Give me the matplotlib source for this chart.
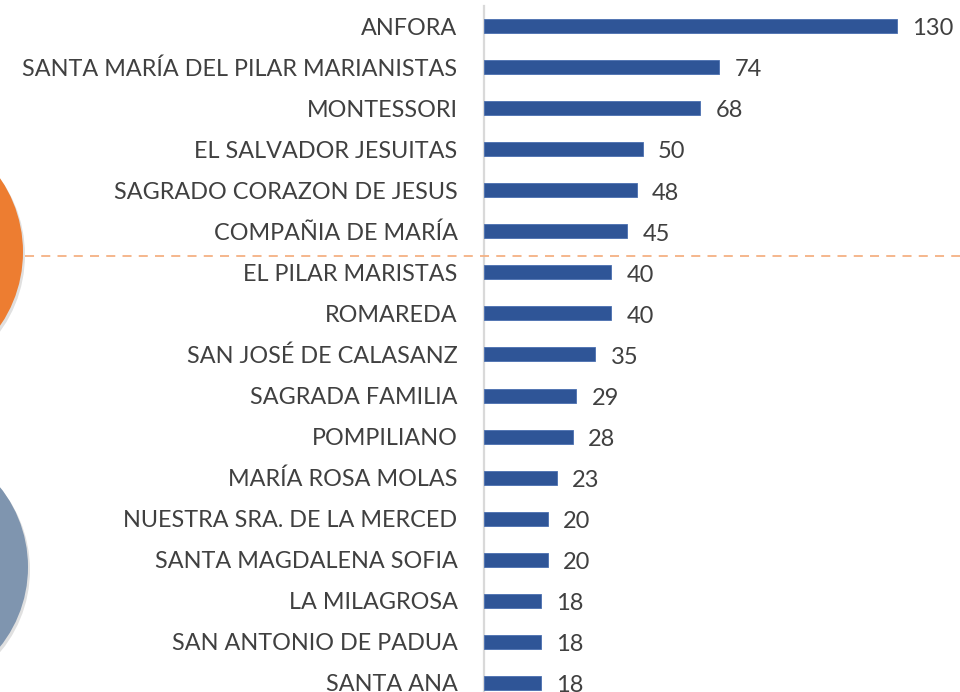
import matplotlib
matplotlib.use("Agg")
import matplotlib.pyplot as plt
from matplotlib.patches import Circle
from matplotlib.lines import Line2D

categories = ["ANFORA", "SANTA MARÍA DEL PILAR MARIANISTAS", "MONTESSORI",
              "EL SALVADOR JESUITAS", "SAGRADO CORAZON DE JESUS", "COMPAÑIA DE MARÍA",
              "EL PILAR MARISTAS", "ROMAREDA", "SAN JOSÉ DE CALASANZ", "SAGRADA FAMILIA",
              "POMPILIANO", "MARÍA ROSA MOLAS", "NUESTRA SRA. DE LA MERCED",
              "SANTA MAGDALENA SOFIA", "LA MILAGROSA", "SAN ANTONIO DE PADUA", "SANTA ANA"]
values = [130, 74, 68, 50, 48, 45, 40, 40, 35, 29, 28, 23, 20, 20, 18, 18, 18]

plt.rcParams['font.family'] = ['Lato', 'DejaVu Sans']

W, H, DPI = 960, 692, 100
fig = plt.figure(figsize=(W / DPI, H / DPI), dpi=DPI)

# decorative circles (figure, inches)
for (cx, cy, r, col) in [(-107, 252, 130, "#ED7D31"), (-100, 567, 128, "#7F95AF")]:
    sh = Circle(((cx + 2) / DPI, (H - cy - 3) / DPI), r / DPI, transform=fig.dpi_scale_trans,
                facecolor="#000000", alpha=0.12, edgecolor="none", zorder=0)
    fig.patches.append(sh)
    c = Circle((cx / DPI, (H - cy) / DPI), r / DPI, transform=fig.dpi_scale_trans,
               facecolor=col, edgecolor="none", zorder=1)
    fig.patches.append(c)

ax_left = 484 / W
ax = fig.add_axes([ax_left, 0, 1 - ax_left, (H - 6) / H])
ax.set_facecolor("none")

pitch = 41.06
ypos = list(range(len(categories)))
ax.barh(ypos, values, height=14 / pitch, color="#2F5597", edgecolor="#4A6FB0", linewidth=0.6, zorder=3)

ax.set_xlim(0, (W - 484) / 3.178)
ax.set_ylim((H - 26) / pitch, -(26 - 6) / pitch)

ax.set_yticks(ypos)
ax.set_yticklabels(categories, fontsize=16.8, color="#404040")
ax.tick_params(axis='y', length=0, pad=19)
ax.set_xticks([])
for s in ["top", "right", "bottom"]:
    ax.spines[s].set_visible(False)
ax.spines["left"].set_color("#D9D9D9")
ax.spines["left"].set_linewidth(1.6)

for y, v in zip(ypos, values):
    ax.annotate(str(v), xy=(v, y), xytext=(11, -2), textcoords="offset points",
                ha="left", va="center", fontsize=17, color="#404040")

# dashed separator line
fig.lines.append(Line2D([25 / W, 1.0], [(H - 256) / H, (H - 256) / H], transform=fig.transFigure,
                        color="#F4B183", linewidth=1.3, linestyle=(0, (5, 4)), zorder=2))

fig.savefig("out.png", dpi=DPI)
